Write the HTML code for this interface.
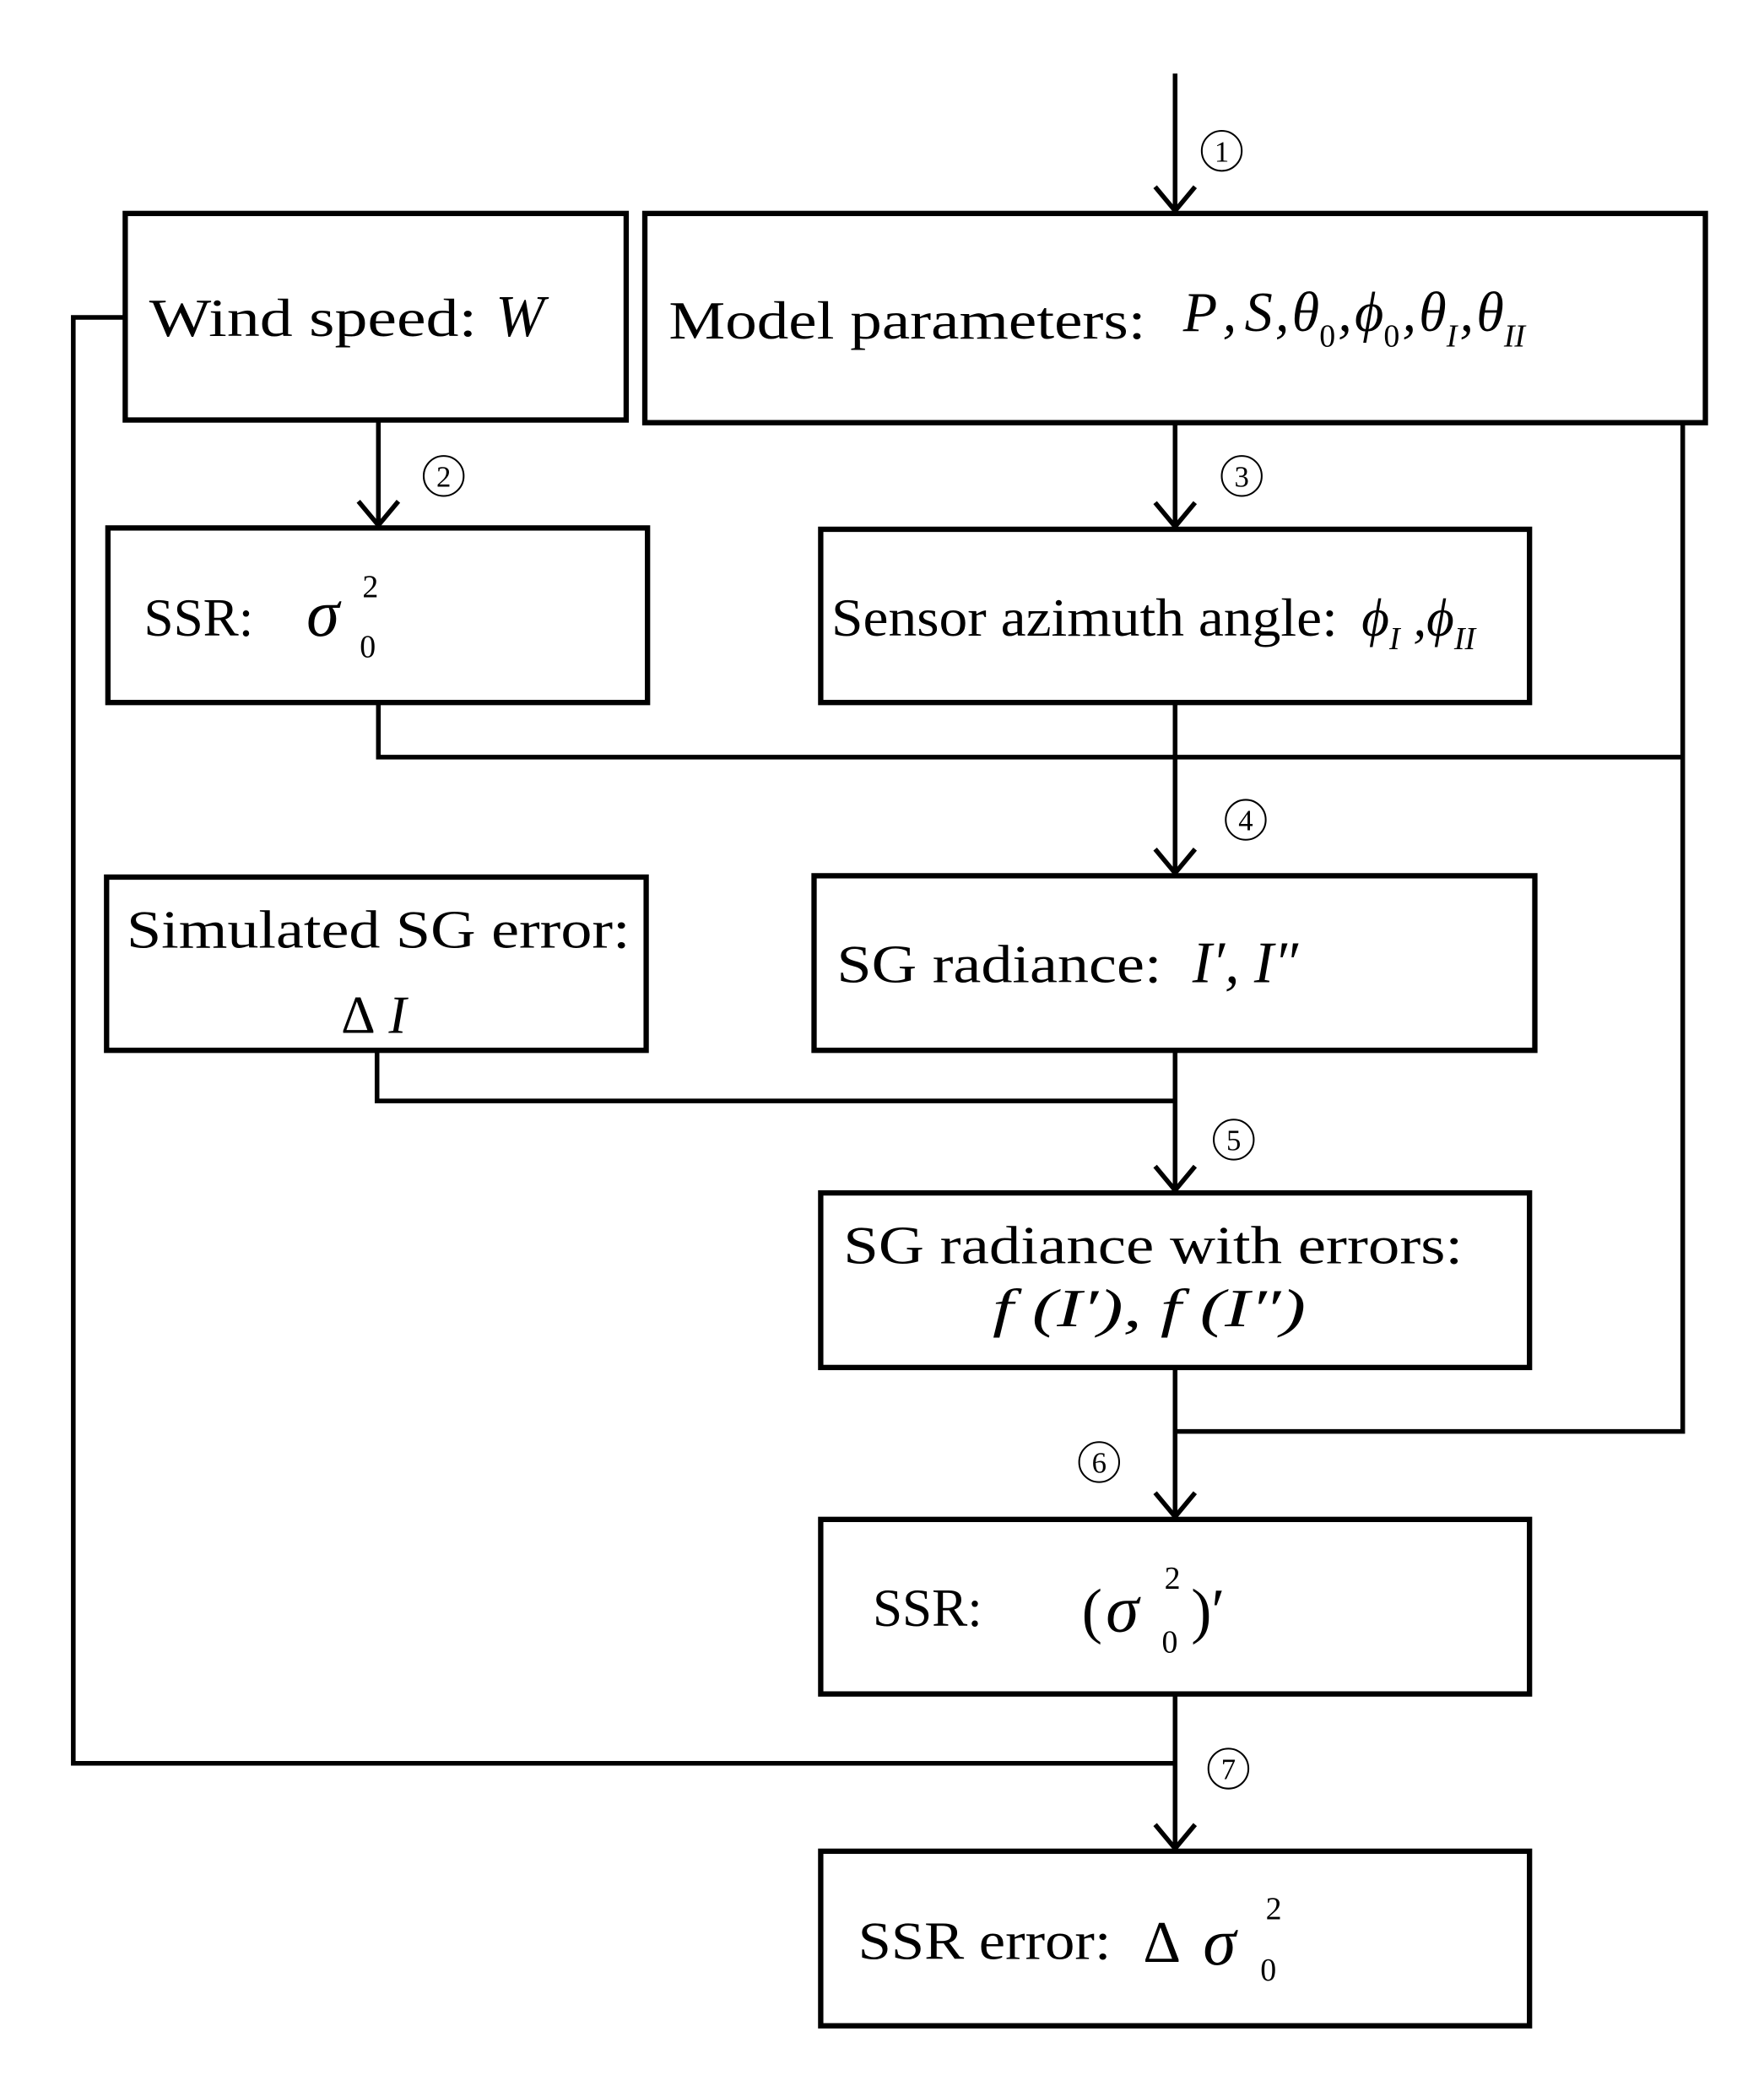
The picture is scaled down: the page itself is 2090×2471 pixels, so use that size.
<!DOCTYPE html>
<html><head><meta charset="utf-8"><style>
html,body{margin:0;padding:0;background:#fff;}
svg{display:block;}
text{font-family:"Liberation Serif",serif;fill:#000;}
.t{font-size:40px;}
.m{font-size:40px;font-style:italic;}
.s{font-size:24px;}
.c{font-size:22px;text-anchor:middle;}
</style></head><body>
<svg width="2090" height="2471" viewBox="0 0 1324 1565" xmlns="http://www.w3.org/2000/svg">
<g fill="none" stroke="#000" stroke-width="4">
<rect x="94" y="160" width="376" height="155"/>
<rect x="484" y="160" width="796" height="157"/>
<rect x="81" y="396" width="405" height="131"/>
<rect x="616" y="397" width="532" height="130"/>
<rect x="80" y="658" width="405" height="130"/>
<rect x="611" y="657" width="541" height="131"/>
<rect x="616" y="895" width="532" height="131"/>
<rect x="616" y="1140" width="532" height="131"/>
<rect x="616" y="1389" width="532" height="131"/>
</g>
<g fill="none" stroke="#000" stroke-width="3.5">
<line x1="882" y1="55" x2="882" y2="158"/>
<line x1="284" y1="315" x2="284" y2="394"/>
<line x1="882" y1="317" x2="882" y2="395"/>
<polyline points="1263,317 1263,1074 882,1074"/>
<polyline points="284,527 284,568 1263,568"/>
<line x1="882" y1="527" x2="882" y2="655"/>
<polyline points="283,788 283,826 882,826"/>
<line x1="882" y1="788" x2="882" y2="893"/>
<line x1="882" y1="1026" x2="882" y2="1138"/>
<polyline points="94,238 55,238 55,1323 882,1323"/>
<line x1="882" y1="1271" x2="882" y2="1387"/>
<polyline points="867,140 882,158 897,140"/>
<polyline points="269,376 284,394 299,376"/>
<polyline points="867,377 882,395 897,377"/>
<polyline points="867,637 882,655 897,637"/>
<polyline points="867,875 882,893 897,875"/>
<polyline points="867,1120 882,1138 897,1120"/>
<polyline points="867,1369 882,1387 897,1369"/>
</g>
<g fill="none" stroke="#000" stroke-width="1.3">
<circle cx="917" cy="113" r="15"/>
<circle cx="333" cy="357" r="15"/>
<circle cx="932" cy="357" r="15"/>
<circle cx="935" cy="615" r="15"/>
<circle cx="926" cy="855" r="15"/>
<circle cx="825" cy="1097" r="15"/>
<circle cx="922" cy="1327" r="15"/>
</g>
<text class="c" x="917" y="121">1</text>
<text class="c" x="333" y="365">2</text>
<text class="c" x="932" y="365">3</text>
<text class="c" x="935" y="623">4</text>
<text class="c" x="926" y="863">5</text>
<text class="c" x="825" y="1105">6</text>
<text class="c" x="922" y="1335">7</text>

<text class="t" x="112" y="252" textLength="246" lengthAdjust="spacingAndGlyphs">Wind speed:</text>
<text class="m" x="372" y="252" style="font-size:44px">W</text>
<text class="t" x="502" y="254" textLength="358" lengthAdjust="spacingAndGlyphs">Model parameters:</text>
<text class="m" x="888" y="248" style="font-size:42px">P<tspan dx="4">,</tspan><tspan dx="6">S</tspan><tspan dx="2">,</tspan><tspan dx="2">θ</tspan><tspan class="s" dy="12" style="font-style:normal">0</tspan><tspan dy="-12" dx="2">,</tspan><tspan dx="2">ϕ</tspan><tspan class="s" dy="12" style="font-style:normal">0</tspan><tspan dy="-12" dx="2">,</tspan><tspan dx="2">θ</tspan><tspan class="s" dy="12">I</tspan><tspan dy="-12" dx="2">,</tspan><tspan dx="2">θ</tspan><tspan class="s" dy="12">II</tspan></text>

<text class="t" x="108" y="477">SSR:</text>
<text class="m" x="230" y="477" style="font-size:50px">σ</text>
<text class="s" x="272" y="448">2</text><text class="s" x="270" y="493">0</text>

<text class="t" x="624" y="477" textLength="380" lengthAdjust="spacingAndGlyphs">Sensor azimuth angle:</text>
<text class="m" x="1022" y="477">ϕ<tspan class="s" dy="10">I</tspan><tspan dy="-10"> ,</tspan>ϕ<tspan class="s" dy="10">II</tspan></text>

<text class="t" x="95" y="711" textLength="378" lengthAdjust="spacingAndGlyphs">Simulated SG error:</text>
<text class="m" x="256" y="775"><tspan style="font-style:normal">Δ</tspan> I</text>

<text class="t" x="628" y="737" textLength="244" lengthAdjust="spacingAndGlyphs">SG radiance:</text>
<text class="m" x="895" y="737" style="font-size:44px">I′, I″</text>

<text class="t" x="633" y="948" textLength="465" lengthAdjust="spacingAndGlyphs">SG radiance with errors:</text>
<text class="m" x="745" y="995" textLength="235" lengthAdjust="spacingAndGlyphs">f (I′), f (I″)</text>

<text class="t" x="655" y="1220">SSR:</text>
<text class="m" x="812" y="1224" style="font-style:normal;font-size:46px">(</text>
<text class="m" x="830" y="1224" style="font-size:50px">σ</text>
<text class="s" x="874" y="1192">2</text><text class="s" x="872" y="1240">0</text>
<text class="m" x="894" y="1224" style="font-style:normal;font-size:46px">)′</text>

<text class="t" x="644" y="1470" textLength="190" lengthAdjust="spacingAndGlyphs">SSR error:</text>
<text class="m" x="858" y="1472" style="font-style:normal;font-size:44px">Δ</text>
<text class="m" x="903" y="1474" style="font-size:50px">σ</text>
<text class="s" x="950" y="1440">2</text><text class="s" x="946" y="1486">0</text>
</svg>
</body></html>
